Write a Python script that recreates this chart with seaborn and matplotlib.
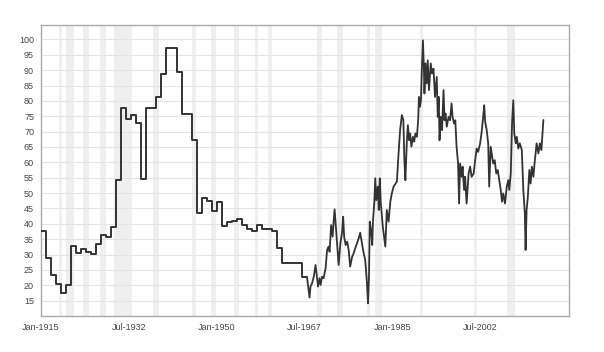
import matplotlib
matplotlib.use("Agg")
import matplotlib.pyplot as plt
import seaborn as sns
import pandas as pd

# Annual step values (1915-1967)
annual_years = list(range(1915, 1968))
annual_values = [37.7, 29.0, 23.3, 20.3, 17.6, 20.0, 32.8, 30.6, 31.9, 30.9,
                 30.1, 33.3, 36.4, 35.7, 38.9, 54.2, 77.8, 74.0, 75.4, 72.7,
                 54.6, 77.8, 77.8, 81.3, 88.9, 97.3, 97.3, 89.5, 75.6, 75.6,
                 67.4, 43.6, 48.5, 47.4, 44.2, 47.2, 39.3, 40.7, 41.0, 41.5,
                 39.6, 38.2, 37.8, 39.6, 38.3, 38.3, 37.8, 32.2, 27.4, 27.4,
                 27.4, 27.4, 22.6]

# Later high-frequency values (decimal years)
late_years = [1968.0, 1968.5, 1968.7, 1969.0, 1969.35, 1969.7, 1969.9, 1970.2, 1970.5, 1970.7,
              1971.0, 1971.3, 1971.7, 1972.0, 1972.3, 1972.5, 1972.8, 1973.1, 1973.3, 1973.5,
              1973.8, 1974.1, 1974.3, 1974.65, 1975.0, 1975.2, 1975.4, 1975.7, 1976.0, 1976.3,
              1976.6, 1977.0, 1977.3, 1977.6, 1977.95, 1978.3, 1978.6, 1978.95, 1979.3, 1979.6,
              1979.95, 1980.15, 1980.35, 1980.5, 1980.75, 1981.0, 1981.15, 1981.4, 1981.6, 1981.8,
              1982.1, 1982.3, 1982.5, 1982.7, 1983.1, 1983.6, 1983.9, 1984.25, 1984.6, 1984.9,
              1985.25, 1985.9, 1986.2, 1986.55, 1986.9, 1987.2, 1987.4, 1987.6, 1987.9, 1988.1,
              1988.35, 1988.55, 1988.8, 1989.1, 1989.35, 1989.6, 1989.9, 1990.15, 1990.3, 1990.5,
              1990.7, 1990.9, 1991.1, 1991.3, 1991.4, 1991.6, 1991.85, 1992.05, 1992.3, 1992.65,
              1992.9, 1993.2, 1993.5, 1993.85, 1994.05, 1994.25, 1994.4, 1994.65, 1994.9, 1995.2,
              1995.4, 1995.6, 1995.85, 1996.2, 1996.5, 1996.8, 1997.0, 1997.3, 1997.55, 1997.8,
              1998.1, 1998.3, 1998.5, 1998.8, 1999.0,
              1999.3, 1999.5, 1999.8, 2000.2, 2000.5, 2000.8, 2001.2, 2001.5, 2001.8, 2002.1,
              2002.5, 2002.8, 2003.1, 2003.3, 2003.5, 2003.8, 2004.1, 2004.3, 2004.6, 2004.9,
              2005.1, 2005.4, 2005.7, 2006.0, 2006.3, 2006.6, 2006.85, 2007.1, 2007.45, 2007.8,
              2008.1, 2008.3, 2008.6, 2008.85, 2009.1, 2009.3, 2009.6, 2009.8, 2010.1, 2010.4,
              2010.8, 2011.1, 2011.4, 2011.55, 2011.75, 2012.0, 2012.3, 2012.55, 2012.8, 2013.1,
              2013.4, 2013.75, 2014.1, 2014.4, 2014.7, 2015.1]
late_values = [22.6, 16.0, 19.6, 20.6, 22.8, 26.6, 23.9, 19.6, 22.3, 20.1,
               22.8, 22.3, 25.5, 31.5, 32.6, 30.9, 39.6, 35.8, 40.7, 44.7,
               38.0, 31.5, 26.6, 33.6, 37.4, 42.3, 35.8, 33.1, 34.2, 31.5,
               26.1, 29.3, 30.4, 32.0, 33.6, 35.3, 37.1, 33.6, 30.4, 28.2,
               20.6, 14.1, 22.8, 40.7, 38.0, 33.1, 41.2, 46.7, 54.8, 47.7,
               52.1, 44.5, 54.8, 46.7, 39.1, 32.6, 44.5, 40.7, 47.2, 49.9,
               52.1, 53.7, 61.8, 70.5, 75.4, 73.7, 60.7, 54.2, 67.2, 72.1,
               67.2, 69.4, 65.1, 68.3, 66.7, 69.4, 68.3, 73.7, 81.3, 78.1,
               80.2, 91.1, 99.7, 90.0, 82.4, 92.2, 85.7, 93.2, 83.5, 92.2,
               88.9, 90.5, 81.3, 87.8, 74.8, 81.3, 67.2, 74.8, 70.5, 83.5,
               73.7, 75.9, 71.6, 74.8, 73.7, 79.2, 74.8, 72.6, 73.7, 65.1,
               59.6, 46.6, 59.6, 55.3, 58.6,
               51.0, 55.3, 46.6, 56.4, 58.6, 55.3, 56.4, 60.7, 64.5, 63.4,
               66.2, 70.0, 74.8, 78.6, 73.2, 70.5, 66.2, 52.1, 65.1, 61.8,
               59.6, 60.7, 56.4, 57.5, 54.2, 51.0, 47.2, 49.9, 46.6, 52.1,
               54.2, 51.0, 56.4, 72.7, 80.2, 69.4, 66.2, 68.3, 64.5, 66.2,
               64.0, 51.0, 43.4, 31.5, 44.5, 48.8, 57.5, 53.1, 58.6, 55.3,
               60.7, 66.2, 62.9, 66.2, 64.0, 73.8]

# Recession periods (start, end) in decimal years
rec_start = [1918.6, 1920.0, 1923.4, 1926.8, 1929.6, 1937.4, 1945.1, 1948.9, 1953.5,
             1957.6, 1960.3, 1969.9, 1973.9, 1980.0, 1981.5, 1990.5, 2001.2, 2007.9]
rec_end = [1919.2, 1921.5, 1924.5, 1927.9, 1933.2, 1938.5, 1945.8, 1949.8, 1954.4,
           1958.3, 1961.1, 1970.9, 1975.2, 1980.5, 1982.9, 1991.2, 2001.9, 2009.5]

xtick_pos = [1915.0, 1932.5, 1950.0, 1967.5, 1985.0, 2002.5]
xtick_labels = ["Jan-1915", "Jul-1932", "Jan-1950", "Jul-1967", "Jan-1985", "Jul-2002"]
ytick_vals = list(range(15, 101, 5))

sns.set_style("white")
plt.rcParams['font.family'] = ['Liberation Sans', 'DejaVu Sans']

fig = plt.figure(figsize=(6.04, 3.52), dpi=100)
ax = fig.add_axes([41/604, 36/352, 528/604, 291/352])

for s, e in zip(rec_start, rec_end):
    ax.axvspan(s, e, color='#efefef', lw=0, zorder=0)

ax.set_axisbelow(True)
ax.yaxis.grid(True, color='#e4e4e4', lw=0.8)
ax.xaxis.grid(False)

# step part (extend last annual value to 1968.0)
step_df = pd.DataFrame({"year": annual_years + [1968.0],
                        "value": annual_values + [annual_values[-1]]})
late_df = pd.DataFrame({"year": late_years, "value": late_values})

sns.lineplot(data=step_df, x="year", y="value", ax=ax, color='#333333', lw=1.4,
             drawstyle='steps-post', estimator=None, zorder=3)
sns.lineplot(data=late_df, x="year", y="value", ax=ax, color='#333333', lw=1.3,
             estimator=None, zorder=3)

ax.set_xlim(1915.0, 2020.2)
ax.set_ylim(10, 104.7)
ax.set_yticks(ytick_vals)
ax.set_yticklabels([str(v) for v in ytick_vals])
ax.set_xticks(xtick_pos)
ax.set_xticklabels(xtick_labels)
ax.tick_params(axis='both', length=0, labelsize=6.5, colors='#444444')
ax.tick_params(axis='y', pad=5)
ax.tick_params(axis='x', pad=5)
ax.set_xlabel("")
ax.set_ylabel("")
for side in ['top', 'right', 'left', 'bottom']:
    ax.spines[side].set_visible(True)
    ax.spines[side].set_color('#aaaaaa')
    ax.spines[side].set_linewidth(1.0)

fig.savefig("out.png", dpi=100)
